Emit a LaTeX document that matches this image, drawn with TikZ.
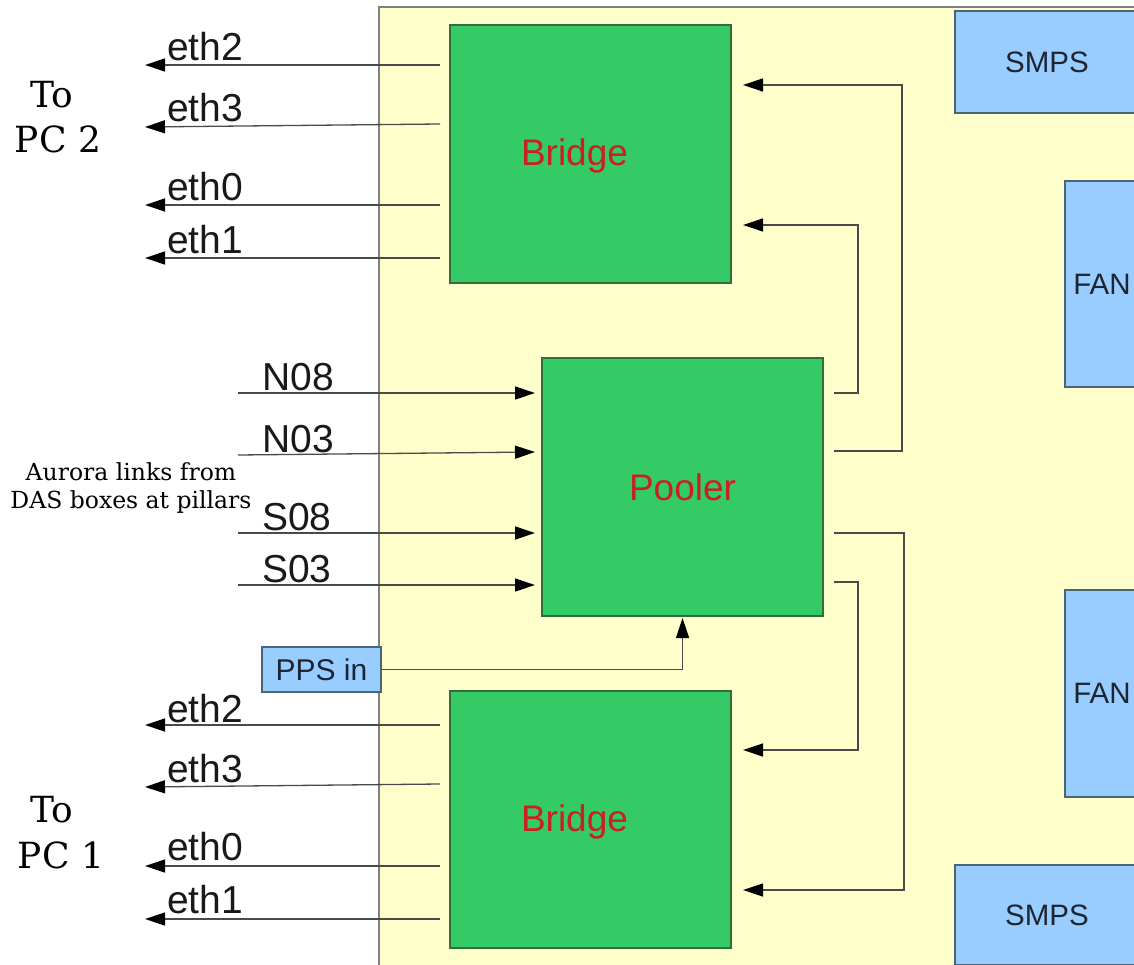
\documentclass[tikz,border=0pt]{standalone}
\usepackage{fontspec}
\setmainfont{Liberation Sans}
\newfontfamily\notefont{DejaVu Serif}
\usetikzlibrary{arrows.meta,calc}

\definecolor{casefill}{HTML}{FFFFCC}
\definecolor{caseedge}{HTML}{808080}
\definecolor{fpgagreen}{HTML}{34CA66}
\definecolor{fpgaedge}{HTML}{356B40}
\definecolor{partblue}{HTML}{99CCFF}
\definecolor{partedge}{HTML}{4A6478}
\definecolor{parttext}{HTML}{1C2633}
\definecolor{fpgatext}{HTML}{C9211E}
\definecolor{wire}{HTML}{4A4A4A}

\begin{document}
\begin{tikzpicture}[x=1pt,y=-1pt,
  box/.style={draw, line width=1.2pt, anchor=north west, inner sep=0pt, outer sep=0pt},
  fpga/.style={box, fill=fpgagreen, draw=fpgaedge},
  part/.style={box, fill=partblue, draw=partedge, text=parttext, font=\fontsize{29.5}{32}\selectfont},
  wirestyle/.style={draw=wire, line width=1.3pt},
  arr/.style={wirestyle, -{Triangle[length=20pt,width=13pt,color=black]}},
  portlbl/.style={font=\fontsize{39}{42}\selectfont, text=black!90, inner sep=0pt, anchor=base west},
  fpgalbl/.style={font=\fontsize{37}{40}\selectfont, text=fpgatext, inner sep=0pt},
  pclbl/.style={font=\notefont\fontsize{36}{40}\selectfont, inner sep=0pt, anchor=base}
]
\useasboundingbox (0,0) rectangle (1134,965);
\clip (0,0) rectangle (1134,965);

% enclosure
\node[box, fill=casefill, draw=caseedge, minimum width=800pt, minimum height=990pt] (case) at (379,7) {};

% power supplies and fans
\node[part, minimum width=184pt, minimum height=102pt] (smpsT) at (955,11) {SMPS};
\node[part, minimum width=74pt, minimum height=206pt] (fanT) at (1065,181) {FAN};
\node[part, minimum width=74pt, minimum height=207pt] (fanB) at (1065,590) {FAN};
\node[part, minimum width=184pt, minimum height=100pt] (smpsB) at (955,865) {SMPS};

% FPGA boards
\node[fpga, minimum width=281pt, minimum height=258pt] (tb) at (450,25) {};
\node[fpga, minimum width=281pt, minimum height=258pt] (pl) at (542,358) {};
\node[fpga, minimum width=281pt, minimum height=257pt] (bb) at (450,691) {};
\node[fpgalbl] (tbl) at ([xshift=-16pt,yshift=-2pt]tb.center) {Bridge};
\node[fpgalbl] (pll) at (pl.center) {Pooler};
\node[fpgalbl] (bbl) at ([xshift=-16pt,yshift=-2pt]bb.center) {Bridge};

% PPS input
\node[part, minimum width=119pt, minimum height=45pt, font=\fontsize{30}{32}\selectfont] (pps) at (262,647) {PPS in};
\draw[arr] (pps.east) -| ([yshift=-2pt]pl.south);

% Ethernet outputs of the upper bridge
\coordinate (ut2) at (145,65);
\coordinate (ut3) at (145,127);
\coordinate (ut0) at (145,205);
\coordinate (ut1) at (145,258);
\draw[arr] ($(tb.north west)+(-10,40)$) -- (ut2);
\draw[arr] ($(tb.north west)+(-10,99)$) -- (ut3);
\draw[arr] ($(tb.north west)+(-10,180)$) -- (ut0);
\draw[arr] ($(tb.north west)+(-10,233)$) -- (ut1);
\node[portlbl] (lu2) at (167,61) {eth2};
\node[portlbl] (lu3) at (167,122) {eth3};
\node[portlbl] (lu0) at (167,201) {eth0};
\node[portlbl] (lu1) at (167,254) {eth1};
\node[pclbl] (pc2a) at (52,108) {To};
\node[pclbl] (pc2b) at (58,153) {PC 2};

% Ethernet outputs of the lower bridge
\coordinate (lt2) at (145,725);
\coordinate (lt3) at (145,787);
\coordinate (lt0) at (145,866);
\coordinate (lt1) at (145,919);
\draw[arr] ($(bb.north west)+(-10,34)$) -- (lt2);
\draw[arr] ($(bb.north west)+(-10,93)$) -- (lt3);
\draw[arr] ($(bb.north west)+(-10,175)$) -- (lt0);
\draw[arr] ($(bb.north west)+(-10,228)$) -- (lt1);
\node[portlbl] (ll2) at (167,722) {eth2};
\node[portlbl] (ll3) at (167,782) {eth3};
\node[portlbl] (ll0) at (167,860) {eth0};
\node[portlbl] (ll1) at (167,913) {eth1};
\node[pclbl] (pc1a) at (52,822) {To};
\node[pclbl] (pc1b) at (61,868) {PC 1};

% Aurora links into the pooler
\coordinate (iN8) at (238,393);
\coordinate (iN3) at (238,455);
\coordinate (iS8) at (238,533);
\coordinate (iS3) at (238,585);
\draw[arr] (iN8) -- ($(pl.north west)+(-7,35)$);
\draw[arr] (iN3) -- ($(pl.north west)+(-7,94)$);
\draw[arr] (iS8) -- ($(pl.north west)+(-7,175)$);
\draw[arr] (iS3) -- ($(pl.north west)+(-7,227)$);
\node[portlbl] (lN8) at (262,390) {N08};
\node[portlbl] (lN3) at (262,452) {N03};
\node[portlbl] (lS8) at (262,530) {S08};
\node[portlbl] (lS3) at (262,582) {S03};
\node[font=\notefont\fontsize{23.5}{28}\selectfont, align=center, inner sep=0pt] (aurora) at (131,488)
  {Aurora links from\\DAS boxes at pillars};

% pooler to bridges
\draw[arr] ($(pl.north east)+(11,35)$) -- ++(24,0) |- ($(tb.north east)+(12,200)$);
\draw[arr] ($(pl.north east)+(11,93)$) -- ++(68,0) |- ($(tb.north east)+(12,60)$);
\draw[arr] ($(pl.north east)+(11,175)$) -- ++(70,0) |- ($(bb.north east)+(12,199)$);
\draw[arr] ($(pl.north east)+(11,224)$) -- ++(24,0) |- ($(bb.north east)+(12,59)$);
\end{tikzpicture}
\end{document}
